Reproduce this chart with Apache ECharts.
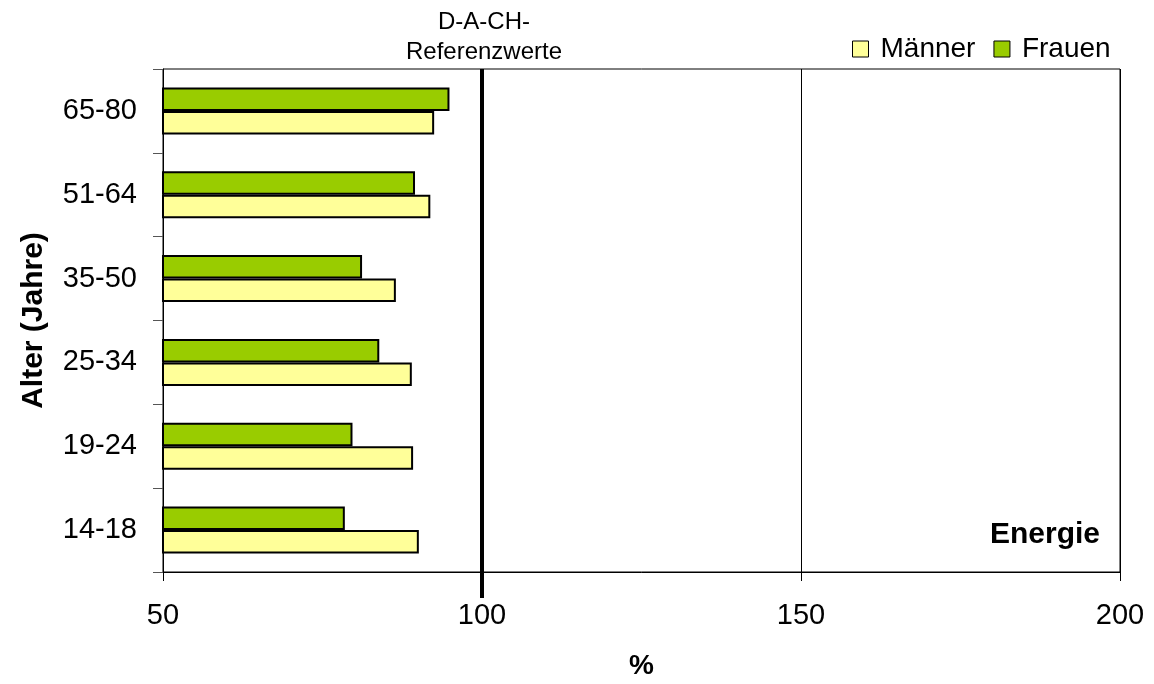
<!DOCTYPE html>
<html>
<head>
<meta charset="utf-8">
<script src="https://cdn.jsdelivr.net/npm/echarts@6/dist/echarts.min.js"></script>
<style>
html,body{margin:0;padding:0;background:#fff;}
#chart{width:1154px;height:684px;}
</style>
</head>
<body>
<div id="chart"></div>
<script>
var categories = ['14-18', '19-24', '25-34', '35-50', '51-64', '65-80'];
var maenner = [90.1, 89.2, 89.0, 86.5, 91.9, 92.5];
var frauen = [78.5, 79.7, 83.9, 81.2, 89.5, 94.9];
var xTicks = [50, 100, 150, 200];
var referenceValue = 100;
var seriesNames = ['Männer', 'Frauen'];

var FONT = 'Liberation Sans, Arial, sans-serif';
var chart = echarts.init(document.getElementById('chart'));
chart.setOption({
  animation: false,
  backgroundColor: '#ffffff',
  textStyle: { fontFamily: FONT },
  grid: {
    left: 163, right: 34, top: 69, bottom: 112,
    show: true, borderColor: '#000', borderWidth: 1,
    containLabel: false, outerBoundsMode: 'none'
  },
  legend: {
    data: seriesNames,
    left: 847, top: 30,
    icon: 'rect',
    itemWidth: 16, itemHeight: 16, itemGap: 18,
    itemStyle: { borderColor: '#000', borderWidth: 1 },
    textStyle: { fontSize: 28, color: '#000', fontFamily: FONT, padding: [0, 0, 0, 7] }
  },
  xAxis: [{
    type: 'value',
    min: xTicks[0], max: xTicks[xTicks.length - 1], interval: 50,
    name: '%', nameLocation: 'middle', nameGap: 80,
    nameTextStyle: { fontSize: 28, fontWeight: 'bold', color: '#000', fontFamily: FONT },
    axisLine: { show: true, lineStyle: { color: '#000', width: 1 } },
    axisTick: { show: true, length: 9, lineStyle: { color: '#000', width: 1 } },
    axisLabel: { fontSize: 29, color: '#000', margin: 29, fontFamily: FONT },
    splitLine: { show: true, lineStyle: { color: '#000', width: 1 } }
  }, {
    type: 'value',
    position: 'bottom',
    min: xTicks[0], max: xTicks[xTicks.length - 1], interval: 50,
    axisLine: { show: false },
    axisLabel: { show: false },
    splitLine: { show: false },
    axisTick: { show: true, customValues: [referenceValue], length: 26, lineStyle: { color: '#000', width: 4 } }
  }],
  yAxis: {
    type: 'category',
    data: categories,
    name: 'Alter (Jahre)', nameLocation: 'middle', nameGap: 114, nameRotate: 90,
    nameTextStyle: { fontSize: 30, fontWeight: 'bold', color: '#000', fontFamily: FONT },
    axisLine: { show: true, lineStyle: { color: '#000', width: 1 } },
    axisTick: { show: true, length: 10, lineStyle: { color: '#555', width: 1 } },
    axisLabel: { fontSize: 29, color: '#000', margin: 26, fontFamily: FONT },
    splitLine: { show: false }
  },
  series: [{
    name: seriesNames[1], type: 'bar', data: frauen,
    barGap: '0%', barCategoryGap: '44%',
    itemStyle: { color: '#99CC00', borderColor: '#000', borderWidth: 2 },
    markLine: {
      silent: true, symbol: 'none',
      label: { show: false },
      lineStyle: { color: '#000', width: 4, type: 'solid' },
      data: [{ xAxis: referenceValue }]
    }
  }, {
    name: seriesNames[0], type: 'bar', data: maenner,
    barGap: '0%', barCategoryGap: '44%',
    itemStyle: { color: '#FFFF99', borderColor: '#000', borderWidth: 2 }
  }],
  graphic: [{
    type: 'text', x: 484, y: 37,
    style: { text: 'D-A-CH-\nReferenzwerte', font: '24px ' + FONT, fill: '#000', align: 'center', verticalAlign: 'middle', lineHeight: 30 }
  }, {
    type: 'text', x: 1100, y: 535,
    style: { text: 'Energie', font: 'bold 30px ' + FONT, fill: '#000', align: 'right', verticalAlign: 'middle' }
  }]
});
</script>
</body>
</html>
